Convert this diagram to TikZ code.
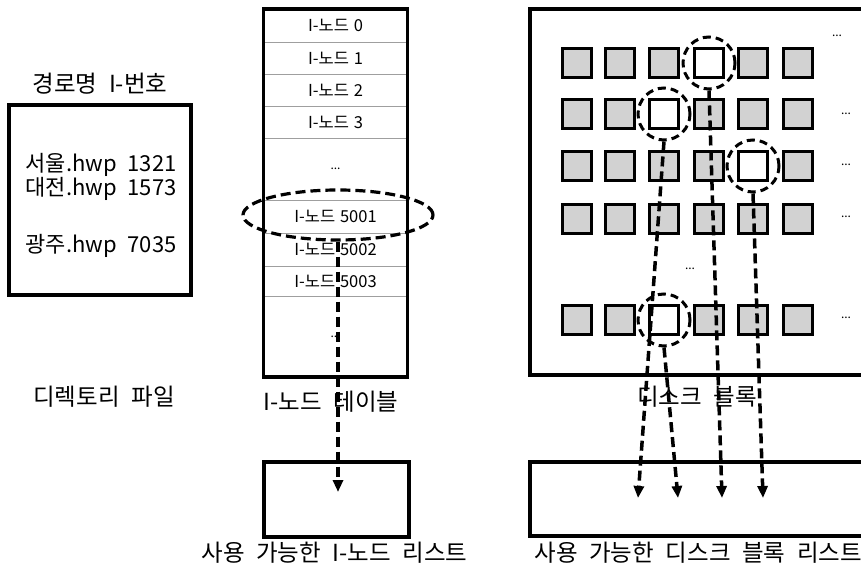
\documentclass[tikz,border=0pt]{standalone}
\usepackage{fontspec}
\setmainfont{Noto Sans CJK KR}[WordSpace=2.2]
\newfontfamily\cellfont{Noto Sans CJK KR}[WordSpace=1.3]
\usetikzlibrary{arrows.meta, shapes.geometric}
\tikzset{
  frame box/.style={
    draw,
    line width=3.2pt
  },
  row cell/.style={
    draw=gray!75,
    line width=0.9pt,
    minimum width=144pt,
    inner sep=0pt,
    font=\cellfont\fontsize{16.5}{18}\selectfont
  },
  block/.style={
    draw,
    line width=2.8pt,
    fill=gray!35,
    minimum size=29pt,
    inner sep=0pt
  },
  free block/.style={
    block,
    fill=white
  },
  free mark/.style={
    draw,
    circle,
    line width=3pt,
    dash pattern=on 8pt off 5pt,
    minimum size=52pt,
    inner sep=0pt
  },
  link/.style={
    line width=3.5pt,
    dash pattern=on 10pt off 5pt
  },
  link arrow/.style={
    link,
    -{Triangle[length=12pt, width=10pt]}
  },
  label text/.style={
    font=\fontsize{23.5}{26}\selectfont
  },
  entry text/.style={
    font=\fontsize{22}{25}\selectfont
  },
  dots/.style={
    font=\fontsize{12}{14}\selectfont
  }
}

\begin{document}
\begin{tikzpicture}[x=1pt, y=-1pt]

  \useasboundingbox (0,0) rectangle (861,564);
  \clip (0,0) rectangle (861,564);

  %% ---- 디렉토리 파일 ----
  \node[label text] (dirhead) at (100,84) {경로명 I-번호};
  \draw[frame box] (9,105) rectangle (191,295);
  \node[entry text, anchor=west] (e1) at (22,165) {서울.hwp 1321};
  \node[entry text, anchor=west] (e2) at (22,189) {대전.hwp 1573};
  \node[entry text, anchor=west] (e3) at (22,246) {광주.hwp 7035};
  \node[label text] (dirname) at (104,397) {디렉토리 파일};

  %% ---- I-노드 테이블 ----
  \node[row cell, minimum height=33pt] (r0) at (335.5,25.5) {I-노드 0};
  \node[row cell, minimum height=32pt] (r1) at (335.5,58) {I-노드 1};
  \node[row cell, minimum height=32pt] (r2) at (335.5,90) {I-노드 2};
  \node[row cell, minimum height=32pt] (r3) at (335.5,122) {I-노드 3};
  \node[row cell, minimum height=62pt, font=\fontsize{12}{14}\selectfont] (rgap) at (335.5,169) {...};
  \node[row cell, minimum height=33pt] (r5001) at (335.5,216.5) {I-노드 5001};
  \node[row cell, minimum height=33pt] (r5002) at (335.5,249.5) {I-노드 5002};
  \node[row cell, minimum height=30pt] (r5003) at (335.5,281) {I-노드 5003};
  \node[row cell, minimum height=81pt, font=\fontsize{12}{14}\selectfont] (rend) at (335.5,336.5) {...};
  \draw[frame box] (263.5,9) rectangle (407.5,377);
  \node[label text] (tabname) at (331,402) {I-노드 테이블};

  % 선택된 I-노드
  \node[draw, ellipse, line width=3.2pt, dash pattern=on 10pt off 5pt,
        minimum width=190pt, minimum height=50pt] (sel) at (338,215) {};

  % 사용 가능한 I-노드 리스트
  \draw[frame box] (264,462) rectangle (409,537);
  \coordinate (tend) at (338,492);
  \draw[link arrow] (sel.south) -- (tend);
  \node[label text, anchor=west] (ilist) at (198,553) {사용 가능한 I-노드 리스트};

  %% ---- 디스크 블록 ----
  \draw[frame box] (530,9) rectangle (880,375);
  \foreach \y [count=\r] in {63,114,166,219,320}
    \foreach \x [count=\c] in {577,620,664,709,753,798}
      \node[block] (b\r\c) at (\x,\y) {};

  % 빈 블록
  \node[free block] (f1) at (b14) {};
  \node[free block] (f2) at (b23) {};
  \node[free block] (f3) at (b35) {};
  \node[free block] (f4) at (b53) {};
  \node[free mark] (m1) at (f1) {};
  \node[free mark] (m2) at (f2) {};
  \node[free mark] (m3) at (f3) {};
  \node[free mark] (m4) at (f4) {};

  \node[dots] (d1) at (837,36) {...};
  \node[dots] (d2) at (846,114) {...};
  \node[dots] (d3) at (846,165) {...};
  \node[dots] (d4) at (846,217) {...};
  \node[dots] (d5) at (846,318) {...};
  \node[dots] (dmid) at (690,269) {...};
  \node[label text] (diskname) at (697,397) {디스크 블록};

  % 사용 가능한 디스크 블록 리스트
  \draw[frame box] (530,462) rectangle (880,536);
  \coordinate (a1) at (638,498);
  \coordinate (a2) at (678,498);
  \coordinate (a3) at (722,498);
  \coordinate (a4) at (763,498);
  \draw[link arrow] (m2.south) -- (a1);
  \draw[link arrow] (m4.south) -- (a2);
  \draw[link arrow] (m1.south) -- (a3);
  \draw[link arrow] (m3.south) -- (a4);
  \node[label text, anchor=west] (dlist) at (531,553) {사용 가능한 디스크 블록 리스트};

\end{tikzpicture}
\end{document}
